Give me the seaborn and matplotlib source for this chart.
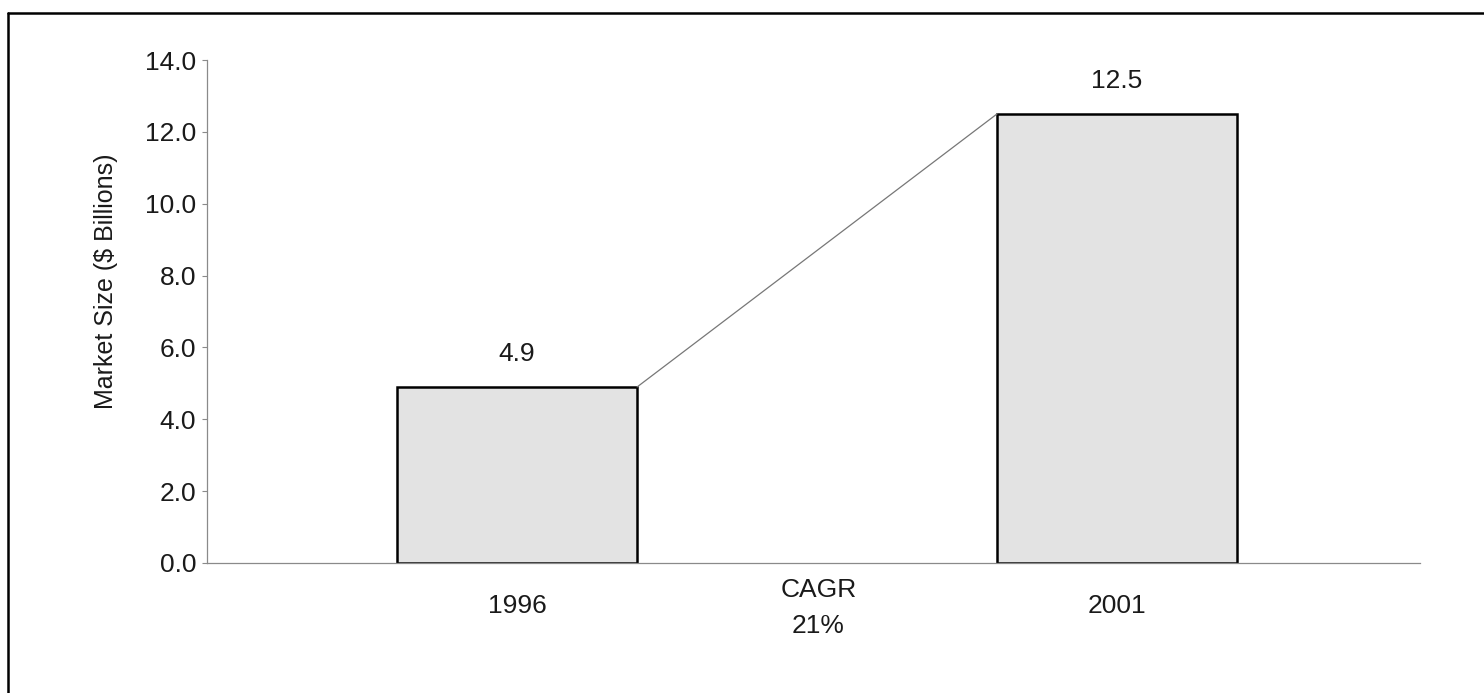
import matplotlib
matplotlib.use("Agg")
import matplotlib.pyplot as plt
import seaborn as sns
import pandas as pd
from matplotlib.lines import Line2D

# Market size data
years = ["1996", "2001"]
market_size = [4.9, 12.5]
value_labels = ["4.9", "12.5"]
cagr_label = "CAGR\n21%"
y_ticks = [0, 2, 4, 6, 8, 10, 12, 14]

df = pd.DataFrame({"year": years, "size": market_size})

sns.set_theme(style="white")
plt.rcParams["font.family"] = ["Liberation Sans", "DejaVu Sans"]

FS = 19
TXT = "#1a1a1a"
AXC = "#8a8a8a"

fig = plt.figure(figsize=(14.84, 6.93), dpi=100)
ax = fig.add_axes([207 / 1484, 1 - 563 / 693, (1420 - 207) / 1484, (563 - 60) / 693])

bar_width = 0.4
sns.barplot(data=df, x="year", y="size", ax=ax, width=bar_width,
            color="#e3e3e3", edgecolor="black", linewidth=1.8, saturation=1)

# Connector line from top-right of first bar to top-left of second bar
ax.plot([0 + bar_width / 2, 1 - bar_width / 2], market_size,
        color="#777777", linewidth=0.9, zorder=1)

# Value labels above bars
for i, (v, lab) in enumerate(zip(market_size, value_labels)):
    ax.annotate(lab, (i, v), xytext=(0, 18.5), textcoords="offset points",
                ha="center", va="baseline", fontsize=FS, color=TXT)

ax.set_xlim(-0.517, 1.505)
ax.set_ylim(0, 14)
ax.set_yticks(y_ticks)
ax.set_yticklabels([f"{t:.1f}" for t in y_ticks], fontsize=FS, color=TXT)
ax.set_ylabel("Market Size ($ Billions)", fontsize=18, color=TXT,
              va="center", ha="center")
ax.yaxis.set_label_coords(-0.083, 0.56)
ax.set_xlabel("")

# Category labels below axis, ticks at category boundaries
ax.set_xticks([0, 1])
ax.set_xticklabels(years, fontsize=FS, color=TXT)
ax.tick_params(axis="x", which="major", length=0, pad=22)
ax.set_xticks([0.502, 1.505], minor=True)
ax.tick_params(axis="x", which="minor", direction="in", length=6,
               width=0.8, color=AXC)
ax.tick_params(axis="y", which="major", direction="out", length=3.6,
               width=0.8, color=AXC, left=True, pad=4.3)

ax.annotate(cagr_label, (0.502, 0), xytext=(0, -11), textcoords="offset points",
            ha="center", va="top", fontsize=FS, color=TXT, linespacing=1.6,
            annotation_clip=False)

for side in ["top", "right"]:
    ax.spines[side].set_visible(False)
for side in ["left", "bottom"]:
    ax.spines[side].set_color(AXC)
    ax.spines[side].set_linewidth(0.9)

# Page frame (top and left edges)
fig.add_artist(Line2D([8 / 1484, 8 / 1484], [0, 1 - 13 / 693],
                      transform=fig.transFigure, color="black", linewidth=1.8))
fig.add_artist(Line2D([8 / 1484, 1], [1 - 13 / 693, 1 - 13 / 693],
                      transform=fig.transFigure, color="black", linewidth=1.8))

fig.savefig("out.png", dpi=100)
